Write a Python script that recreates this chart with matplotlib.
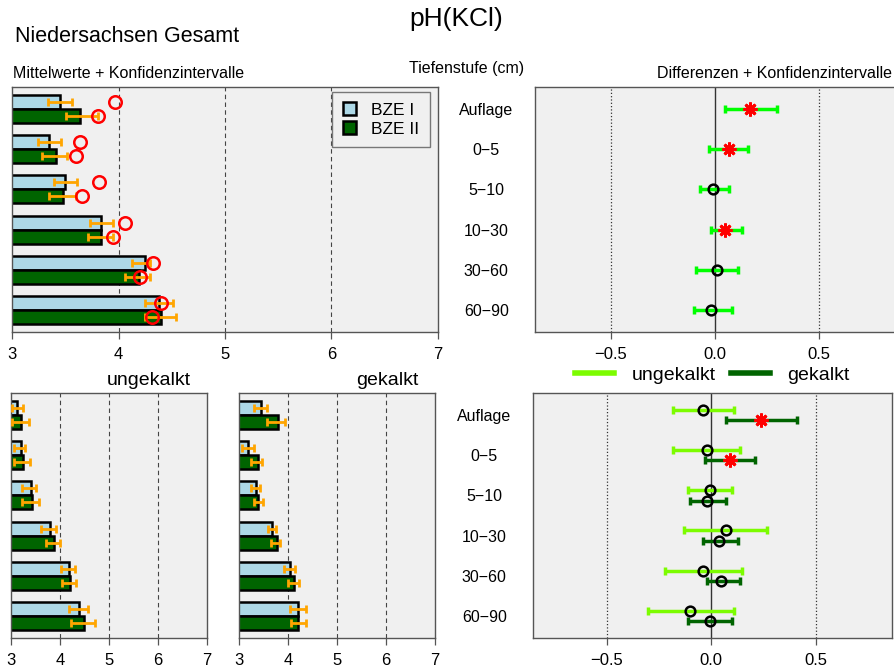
import numpy as np
import matplotlib
matplotlib.use('Agg')
from matplotlib import pyplot as plt
from matplotlib.lines import Line2D
from matplotlib.patches import Patch

plt.rcParams['font.family'] = ['Liberation Sans', 'DejaVu Sans']

tiefen = ['Auflage', '0\u22125', '5\u221210', '10\u221230', '30\u221260', '60\u221290']

# Niedersachsen gesamt
ges_bze1 = [3.45, 3.35, 3.50, 3.84, 4.25, 4.38]
ges_bze1_lo = [3.34, 3.24, 3.39, 3.73, 4.13, 4.25]
ges_bze1_hi = [3.56, 3.46, 3.61, 3.95, 4.30, 4.51]
ges_bze2 = [3.64, 3.41, 3.48, 3.84, 4.19, 4.40]
ges_bze2_lo = [3.51, 3.28, 3.35, 3.71, 4.06, 4.25]
ges_bze2_hi = [3.81, 3.52, 3.60, 3.95, 4.30, 4.54]
ges_kreis1 = [3.97, 3.64, 3.82, 4.06, 4.32, 4.40]
ges_kreis2 = [3.81, 3.60, 3.66, 3.95, 4.20, 4.31]

diff_ges = [0.17, 0.07, -0.01, 0.05, 0.01, -0.02]
diff_ges_lo = [0.05, -0.03, -0.07, -0.02, -0.09, -0.10]
diff_ges_hi = [0.30, 0.16, 0.07, 0.13, 0.11, 0.08]
diff_ges_sig = [True, True, False, True, False, False]

# ungekalkt
ungek_bze1 = [3.13, 3.20, 3.40, 3.79, 4.18, 4.39]
ungek_bze1_lo = [3.03, 3.06, 3.23, 3.62, 4.03, 4.18]
ungek_bze1_hi = [3.24, 3.29, 3.52, 3.91, 4.31, 4.57]
ungek_bze2 = [3.21, 3.24, 3.43, 3.87, 4.20, 4.48]
ungek_bze2_lo = [3.03, 3.06, 3.22, 3.71, 4.05, 4.22]
ungek_bze2_hi = [3.37, 3.39, 3.57, 4.01, 4.32, 4.72]

# gekalkt
gek_bze1 = [3.44, 3.19, 3.34, 3.68, 4.05, 4.21]
gek_bze1_lo = [3.30, 3.07, 3.25, 3.60, 3.92, 4.05]
gek_bze1_hi = [3.58, 3.31, 3.43, 3.75, 4.14, 4.36]
gek_bze2 = [3.79, 3.38, 3.39, 3.77, 4.12, 4.21]
gek_bze2_lo = [3.58, 3.24, 3.31, 3.66, 3.99, 4.07]
gek_bze2_hi = [3.94, 3.47, 3.48, 3.83, 4.23, 4.37]

diff_ungek = [-0.04, -0.02, -0.005, 0.07, -0.04, -0.10]
diff_ungek_lo = [-0.18, -0.18, -0.11, -0.13, -0.22, -0.30]
diff_ungek_hi = [0.11, 0.14, 0.10, 0.27, 0.15, 0.11]
diff_ungek_sig = [False, False, False, False, False, False]
diff_gek = [0.24, 0.09, -0.02, 0.04, 0.05, -0.005]
diff_gek_lo = [0.07, -0.03, -0.10, -0.04, -0.02, -0.11]
diff_gek_hi = [0.41, 0.21, 0.07, 0.13, 0.14, 0.10]
diff_gek_sig = [True, True, False, False, False, False]

W, H = 894, 670
fig = plt.figure(figsize=(W / 100, H / 100), dpi=100)
fig.patch.set_facecolor('white')

BG = '#f0f0f0'
FRAME = '#555555'


def px_axes(x0, y0, x1, y1):
    return fig.add_axes([x0 / W, 1 - y1 / H, (x1 - x0) / W, (y1 - y0) / H])


def style(ax, xlim, xticks, xlabels):
    ax.set_facecolor(BG)
    ax.set_xlim(*xlim)
    ax.set_ylim(5.54, -0.54)
    ax.set_xticks(xticks)
    ax.set_xticklabels(xlabels)
    ax.tick_params(axis='x', direction='out', length=5, width=0.9, color=FRAME,
                   labelsize=12, pad=6)
    ax.set_yticks([])
    for s in ax.spines.values():
        s.set_color(FRAME)
        s.set_linewidth(1)


def bar_panel(ax, b1, b1lo, b1hi, b2, b2lo, b2hi, k1=None, k2=None):
    style(ax, (3, 7), [3, 4, 5, 6, 7], ['3', '4', '5', '6', '7'])
    for x in [4, 5, 6]:
        ax.axvline(x, color='#444444', ls=(0, (4, 3)), lw=0.8, zorder=0)
    y = np.arange(len(tiefen))
    h = 0.35
    ax.barh(y - h / 2, b1, height=h, color='#add8e6', edgecolor='black', lw=1.8, zorder=2)
    ax.barh(y + h / 2, b2, height=h, color='#006400', edgecolor='black', lw=1.8, zorder=2)
    b1, b1lo, b1hi = map(np.array, (b1, b1lo, b1hi))
    b2, b2lo, b2hi = map(np.array, (b2, b2lo, b2hi))
    ax.errorbar(b1, y - h / 2, xerr=[b1 - b1lo, b1hi - b1], fmt='none', ecolor='orange',
                elinewidth=2, capsize=3, capthick=2, zorder=3)
    ax.errorbar(b2, y + h / 2, xerr=[b2 - b2lo, b2hi - b2], fmt='none', ecolor='orange',
                elinewidth=2, capsize=3, capthick=2, zorder=3)
    if k1 is not None:
        ax.plot(k1, y - h / 2, 'o', mfc='none', mec='red', ms=9, mew=1.8, zorder=4)
        ax.plot(k2, y + h / 2, 'o', mfc='none', mec='red', ms=9, mew=1.8, zorder=4)


def diff_panel(ax, xlim, reihen):
    style(ax, xlim, [-0.5, 0.0, 0.5], ['\u22120.5', '0.0', '0.5'])
    ax.axvline(0, color='#333333', lw=1, zorder=0)
    for x in [-0.5, 0.5]:
        ax.axvline(x, color='#333333', ls=':', lw=0.9, zorder=0)
    y = np.arange(len(tiefen))
    for werte, lo, hi, sig, farbe, off in reihen:
        werte, lo, hi = map(np.array, (werte, lo, hi))
        yy = y + off
        ax.errorbar(werte, yy, xerr=[werte - lo, hi - werte], fmt='none', ecolor=farbe,
                    elinewidth=2.5, capsize=3, capthick=2.5, zorder=2)
        sig = np.array(sig)
        ax.plot(werte[~sig], yy[~sig], 'o', mfc='none', mec='black', ms=7, mew=1.8, zorder=3)
        ax.plot(werte[sig], yy[sig], marker=(8, 2, 0), ls='none', mec='red', mfc='red',
                ms=10, mew=2, zorder=3)
    ax.set_yticks(y)
    ax.set_yticklabels(tiefen)
    ax.tick_params(axis='y', length=0, pad=35, labelsize=11.5)
    for t in ax.get_yticklabels():
        t.set_ha('center')


# oben links: Mittelwerte
ax1 = px_axes(12, 87, 438, 332)
bar_panel(ax1, ges_bze1, ges_bze1_lo, ges_bze1_hi, ges_bze2, ges_bze2_lo, ges_bze2_hi,
          ges_kreis1, ges_kreis2)
leg = ax1.legend(handles=[Patch(facecolor='#add8e6', edgecolor='black', lw=1.8, label='BZE I'),
                          Patch(facecolor='#006400', edgecolor='black', lw=1.8, label='BZE II')],
                 loc='upper right', bbox_to_anchor=(0.981, 0.98), borderaxespad=0,
                 fontsize=12.5, handlelength=0.75, handleheight=0.75, handletextpad=0.9,
                 labelspacing=0.2, borderpad=0.6,
                 fancybox=False, facecolor=BG, edgecolor='#777777', framealpha=1)
leg.get_frame().set_linewidth(1)

# oben rechts: Differenzen
ax2 = px_axes(535, 87, 900, 332)
diff_panel(ax2, (-0.865, 0.89),
           [(diff_ges, diff_ges_lo, diff_ges_hi, diff_ges_sig, '#00ff00', 0.0)])

# unten links / mitte
ax3 = px_axes(11, 393, 207, 638)
bar_panel(ax3, ungek_bze1, ungek_bze1_lo, ungek_bze1_hi, ungek_bze2, ungek_bze2_lo, ungek_bze2_hi)
ax3.text(0.705, 1.05, 'ungekalkt', transform=ax3.transAxes, ha='center', va='center', fontsize=14)

ax4 = px_axes(239, 393, 435, 638)
bar_panel(ax4, gek_bze1, gek_bze1_lo, gek_bze1_hi, gek_bze2, gek_bze2_lo, gek_bze2_hi)
ax4.text(0.757, 1.05, 'gekalkt', transform=ax4.transAxes, ha='center', va='center', fontsize=14)

# unten rechts
ax5 = px_axes(533, 393, 892, 638)
diff_panel(ax5, (-0.852, 0.866),
           [(diff_ungek, diff_ungek_lo, diff_ungek_hi, diff_ungek_sig, 'lawngreen', -0.13),
            (diff_gek, diff_gek_lo, diff_gek_hi, diff_gek_sig, '#006400', 0.13)])
ax5.legend(handles=[Line2D([], [], color='lawngreen', lw=4, label='ungekalkt'),
                    Line2D([], [], color='#006400', lw=4, label='gekalkt')],
           loc='lower center', bbox_to_anchor=(0.5, 0.99), ncol=2, frameon=False,
           fontsize=14, handlelength=2.0, handletextpad=0.9, columnspacing=0.8,
           borderaxespad=0.2)

# Texte
fig.text(456 / W, 1 - 19 / H, 'pH(KCl)', ha='center', va='center', fontsize=19)
fig.text(15 / W, 1 - 36 / H, 'Niedersachsen Gesamt', ha='left', va='center', fontsize=15.5)
fig.text(13 / W, 1 - 74 / H, 'Mittelwerte + Konfidenzintervalle', ha='left', va='center', fontsize=11.5)
fig.text(467 / W, 1 - 68 / H, 'Tiefenstufe (cm)', ha='center', va='center', fontsize=11.5)
fig.text(892 / W, 1 - 74 / H, 'Differenzen + Konfidenzintervalle', ha='right', va='center', fontsize=11.5)

fig.savefig('out.png', dpi=100)
